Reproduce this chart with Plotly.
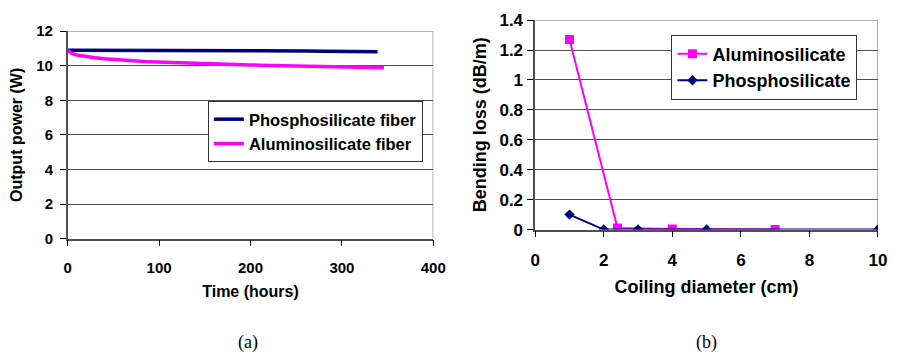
import plotly.graph_objects as go

# (a) output power versus time
time_al = [0, 2, 5, 10, 15, 20, 30, 40, 50, 60, 70, 80, 90, 100, 110, 120, 130, 140,
           150, 160, 170, 180, 190, 200, 210, 220, 230, 240, 250, 260, 270, 280, 290,
           300, 310, 320, 330, 340, 346]
power_al = [10.88, 10.78, 10.70, 10.62, 10.57, 10.53, 10.46, 10.40, 10.35, 10.31, 10.28,
            10.25, 10.22, 10.20, 10.18, 10.16, 10.14, 10.12, 10.11, 10.10, 10.08, 10.07,
            10.05, 10.04, 10.03, 10.02, 10.01, 10.00, 9.99, 9.97, 9.96, 9.95, 9.94, 9.93,
            9.92, 9.91, 9.90, 9.89, 9.88]

time_ph = [0, 20, 40, 60, 80, 100, 120, 140, 160, 180, 200, 220, 240, 260, 280, 300,
           320, 339]
power_ph = [10.89, 10.89, 10.88, 10.89, 10.88, 10.88, 10.88, 10.89, 10.88, 10.88, 10.87,
            10.86, 10.86, 10.85, 10.83, 10.83, 10.82, 10.81]

# (b) bending loss versus coiling diameter
diam_al = [1, 2.4, 4, 7]
loss_al = [1.27, 0.01, 0.003, 0.0]
diam_ph = [1, 2, 3, 5, 10]
loss_ph = [0.1, 0.0, 0.0, 0.0, 0.0]

NAVY = "#000080"
PINK = "#FF00FF"
FONT = "Liberation Sans, Arial, sans-serif"
GRID = "#505050"
BORDER = "#999999"


def bold(size):
    return dict(family=FONT, size=size, color="black", weight="bold")


fig = go.Figure()

fig.add_trace(go.Scatter(x=time_ph, y=power_ph, mode="lines", name="Phosphosilicate fiber",
                         line=dict(color=NAVY, width=3.5), xaxis="x", yaxis="y",
                         legend="legend"))
fig.add_trace(go.Scatter(x=time_al, y=power_al, mode="lines", name="Aluminosilicate fiber",
                         line=dict(color=PINK, width=3.5), xaxis="x", yaxis="y",
                         legend="legend"))

fig.add_trace(go.Scatter(x=diam_al, y=loss_al, mode="lines+markers", name="Aluminosilicate",
                         line=dict(color=PINK, width=2),
                         marker=dict(symbol="square", size=9, color=PINK),
                         xaxis="x2", yaxis="y2", legend="legend2"))
fig.add_trace(go.Scatter(x=diam_ph, y=loss_ph, mode="lines+markers", name="Phosphosilicate",
                         line=dict(color=NAVY, width=2),
                         marker=dict(symbol="diamond", size=8, color=NAVY),
                         xaxis="x2", yaxis="y2", legend="legend2"))


def axis(tsize, **kw):
    d = dict(showline=True, linecolor=GRID, linewidth=1.5, ticks="outside",
             ticklen=6, tickcolor="black", tickfont=bold(tsize), zeroline=False,
             showgrid=False)
    d.update(kw)
    return d


fig.update_layout(
    width=904, height=364,
    margin=dict(l=0, r=0, t=0, b=0),
    paper_bgcolor="white", plot_bgcolor="white",
    showlegend=True,
    xaxis=axis(15, domain=[64 / 904, 437 / 904], range=[0, 400], dtick=100,
               ticklabelstandoff=9,
               title=dict(text="Time (hours)", font=bold(16), standoff=10),
               anchor="y"),
    yaxis=axis(15, domain=[1 - 242.3 / 364, 1 - 23.3 / 364], range=[0, 12], dtick=2,
               ticklabelstandoff=4, showgrid=True, gridcolor=GRID, gridwidth=1,
               title=dict(text="Output power (W)", font=bold(16), standoff=10),
               anchor="x"),
    xaxis2=axis(17, domain=[541 / 904, 890.7 / 904], range=[0, 10], dtick=2,
                ticklabelstandoff=8,
                title=dict(text="Coiling diameter (cm)", font=bold(18), standoff=12),
                anchor="y2"),
    yaxis2=axis(17, domain=[1 - 232.7 / 364, 1 - 11.7 / 364], range=[0, 1.4], dtick=0.2,
                tickformat="~g", ticklabelstandoff=1,
                showgrid=True, gridcolor=GRID, gridwidth=1,
                title=dict(text="Bending loss (dB/m)", font=bold(18), standoff=8),
                anchor="x2"),
    legend=dict(x=207 / 904, y=1 - 97 / 364, xanchor="left", yanchor="top",
                bordercolor="#333333", borderwidth=1, bgcolor="white",
                font=bold(16.5), tracegroupgap=0, itemwidth=30),
    legend2=dict(x=680 / 904, y=1 - 27 / 364, xanchor="left", yanchor="top",
                 bordercolor="#333333", borderwidth=1, bgcolor="white",
                 font=bold(18), tracegroupgap=8, itemwidth=30),
)

# Plot-area frame on the top and right sides
for xa, ya, xr, yr in [("x", "y", [0, 400], [0, 12]), ("x2", "y2", [0, 10], [0, 1.4])]:
    fig.add_shape(type="line", xref=xa, yref=ya, x0=xr[0], x1=xr[1], y0=yr[1], y1=yr[1],
                  line=dict(color=BORDER, width=1.5), layer="below")
    fig.add_shape(type="line", xref=xa, yref=ya, x0=xr[1], x1=xr[1], y0=yr[0], y1=yr[1],
                  line=dict(color=BORDER, width=1.5), layer="below")

# Panel labels
for label, xc in [("(a)", 248 / 904), ("(b)", 716 / 904)]:
    fig.add_annotation(text=label, x=xc, y=1 - 352 / 364, xref="paper", yref="paper",
                       showarrow=False, xanchor="center", yanchor="middle",
                       font=dict(family="Liberation Serif", size=18, color="black"))

fig.write_html("out.html")
